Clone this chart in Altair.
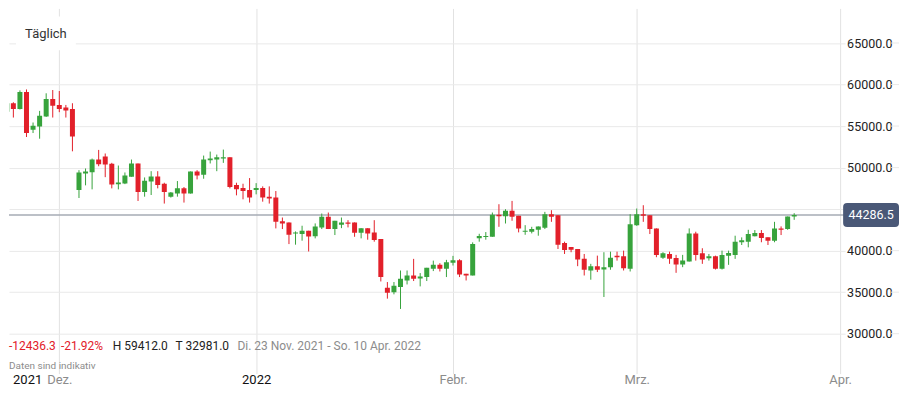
import altair as alt
import pandas as pd

# ---------------- data ----------------
all_days = pd.date_range("2021-11-23", "2022-03-25", freq="D")
closed_days = ["2021-12-25", "2022-01-01"]
trade_dates = [d.strftime("%Y-%m-%d") for d in all_days if d.strftime("%Y-%m-%d") not in closed_days]

opens = [56723, 57751, 57070, 59103, 54557, 54952, 56148, 58266, 57548, 57225,
         57070, 47297, 49294, 49446, 50968, 51330, 50450, 48010, 48100, 48900,
         50490, 47057, 48337, 48935, 48060, 46500, 46870, 47500, 46870, 49534,
         49140, 50880, 50970, 51090, 51250, 47900, 47540, 47300, 47300, 47540,
         46500, 46390, 43550, 43400, 42080, 42000, 42400, 41730, 42800, 44070,
         42600, 43110, 43400, 43400, 42150, 42710, 42200, 41400, 35540, 34980,
         35620, 36410, 37010, 36650, 36820, 37810, 38290, 37810, 38530, 38850,
         37210, 37010, 41480, 41640, 41670, 44310, 44150, 44790, 44190, 42270,
         42270, 42510, 42750, 44390, 44270, 40920, 40440, 40200, 39010, 37600,
         38130, 37730, 38010, 39400, 39330, 37810, 43070, 44390, 44270, 42680,
         39160, 39600, 39130, 38330, 38690, 42080, 39690, 39090, 39330, 37810,
         39400, 39490, 41010, 41080, 41720, 42120, 41600, 41200, 42680, 42600,
         44110]
closes = [57751, 57070, 59103, 54163, 55036, 56232, 58266, 57464, 57070, 56866,
          53756, 49414, 49534, 50968, 50406, 50370, 47978, 48220, 49055, 50490,
          47057, 48420, 48935, 47900, 47060, 46990, 47500, 46870, 49534, 49055,
          50968, 51088, 51250, 51250, 47660, 47380, 47180, 46390, 47540, 46390,
          46270, 43470, 43280, 41910, 42200, 42400, 41700, 42920, 44070, 42600,
          43590, 43400, 43230, 42150, 42710, 42080, 41280, 36820, 34940, 35780,
          36610, 37010, 36610, 36890, 37930, 38290, 37810, 38610, 38850, 37130,
          37010, 40800, 41760, 41760, 44310, 44150, 44790, 44070, 42680, 42400,
          42600, 42920, 44390, 44070, 40720, 40080, 40120, 38920, 37700, 38130,
          37700, 38010, 39160, 39210, 37890, 43190, 44390, 44190, 42600, 39490,
          39690, 39010, 38330, 38810, 42080, 39490, 38920, 39330, 37810, 39490,
          39730, 41080, 41250, 42000, 42120, 41520, 41200, 42680, 42510, 44110,
          44286.5]
highs = [57943, 57870, 59300, 59412, 55431, 56830, 58947, 59342, 59222, 57548,
         57751, 49689, 49893, 51088, 52130, 51700, 50574, 50250, 49414, 50970,
         50490, 48816, 49570, 49570, 48180, 47060, 48380, 47660, 49534, 49690,
         51450, 51930, 51570, 52170, 51250, 48180, 48060, 48740, 48130, 47740,
         47740, 47180, 43990, 43400, 42320, 43000, 42400, 43280, 44470, 44590,
         43590, 43990, 43670, 43400, 42710, 42710, 43670, 41400, 36220, 36220,
         37610, 37610, 39010, 37300, 37930, 38800, 38490, 38890, 39370, 38970,
         37210, 41000, 42030, 42240, 44590, 45590, 44990, 45990, 44190, 43070,
         42870, 42920, 44670, 44870, 44270, 41080, 40440, 40200, 39600, 38410,
         39400, 39810, 39880, 39880, 40000, 44390, 45070, 45470, 44270, 42680,
         39810, 39880, 39490, 39490, 42680, 42280, 40290, 39600, 39400, 40000,
         40000, 41800, 41600, 42510, 42480, 42480, 41600, 43470, 42920, 44110,
         44510]
lows = [55550, 56030, 57000, 53685, 54163, 53481, 56100, 56030, 56675, 56030,
        51962, 46340, 47863, 47382, 50167, 48850, 47500, 47380, 48010, 48900,
        45981, 46500, 46700, 47500, 45670, 46390, 46500, 45790, 46870, 48580,
        48660, 50500, 49570, 50570, 47500, 46660, 46180, 45790, 46780, 45900,
        45670, 42680, 42600, 40790, 40720, 41200, 39900, 41480, 42600, 42600,
        41880, 42710, 42800, 41670, 41480, 41320, 41080, 36290, 34220, 34740,
        32981, 35930, 36340, 35700, 36340, 37540, 37490, 36820, 38210, 36820,
        36410, 37010, 41080, 41320, 41670, 42870, 43270, 43600, 42200, 41910,
        42080, 41800, 42600, 43470, 40200, 39600, 39810, 38130, 37010, 36500,
        37420, 34420, 37700, 38800, 37610, 37490, 42990, 43470, 42000, 39210,
        39010, 38410, 37330, 38010, 38690, 38800, 38410, 38800, 37730, 37730,
        38290, 39010, 40680, 40400, 41720, 41010, 40680, 41010, 41880, 42510,
        43710]

last_price = 44286.5
last_price_label = "44286.5"
period_label = "Täglich"
stats_texts = ["-12436.3", "-21.92%", "H 59412.0", "T 32981.0",
               "Di. 23 Nov. 2021 - So. 10 Apr. 2022"]
disclaimer = "Daten sind indikativ"
y_ticks = [30000, 35000, 40000, 45000, 50000, 55000, 60000, 65000]
y_hidden_label = 45000                  # covered by the last-price tag
x_tick_labels = ["2021", "Dez.", "2022", "Febr.", "Mrz.", "Apr."]

# ---------------- layout / styles ----------------
UP, DOWN = "#37a33c", "#e2202a"
GRID = "#e9e9e9"
FONT = "Roboto"
W, H = 838, 366
x_domain = [1.0944, 127]
y_domain = [25194, 69169]

n = len(trade_dates)
df = pd.DataFrame({"i": list(range(n)), "date": trade_dates, "open": opens,
                   "high": highs, "low": lows, "close": closes})
df["dir"] = ["up" if c >= o else "down" for o, c in zip(opens, closes)]

# first trading day of each month -> tick position
month_first = []
seen = set()
for idx, d in enumerate(trade_dates):
    m = d[:7]
    if m not in seen:
        seen.add(m)
        month_first.append(idx)
month_first = month_first[1:]           # Dez, Jan, Feb, Mrz
year_pos = 3.1                          # leading "2021" label
apr_pos = n - 1 + 7                     # 1 Apr. (continuing the daily index)
x_tick_pos = [year_pos] + month_first + [apr_pos]

expr = "''"
for p, lab in reversed(list(zip(x_tick_pos, x_tick_labels))):
    expr = f"datum.value == {p} ? '{lab}' : ({expr})"
dark_test = f"datum.value == {year_pos} || datum.value == {month_first[1]}"

x_scale = alt.Scale(domain=x_domain, nice=False, zero=False)
y_scale = alt.Scale(domain=y_domain, nice=False, zero=False)

x_axis = alt.Axis(values=x_tick_pos, labelExpr=expr, title=None, grid=True,
                  gridColor={"condition": {"test": f"datum.value == {year_pos}", "value": "transparent"},
                             "value": "#e2e2e2"},
                  labelColor={"condition": {"test": dark_test, "value": "#111111"},
                              "value": "#8c8c8c"},
                  domain=False, ticks=False, labelPadding=0, labelFontSize=13,
                  labelBaseline="top", labelFlush=False, labelOverlap=False, labelFont=FONT)
y_axis = alt.Axis(orient="right", values=y_ticks,
                  labelExpr=f"datum.value == {y_hidden_label} ? '' : format(datum.value, '.1f')",
                  title=None, domain=False, ticks=False, labelPadding=1.5,
                  labelFontSize=12.5, labelColor="#222222", gridColor=GRID, labelFont=FONT)

X = alt.X("i:Q", scale=x_scale, axis=x_axis)
color_enc = alt.Color("dir:N", scale=alt.Scale(domain=["up", "down"], range=[UP, DOWN]), legend=None)

base = alt.Chart(df)
wicks = base.mark_rule(strokeWidth=1, clip=True).encode(
    x=X, y=alt.Y("low:Q", scale=y_scale, axis=y_axis), y2="high:Q", color=color_enc)
bodies = base.mark_bar(size=5, clip=True).encode(
    x=X, y=alt.Y("open:Q", scale=y_scale, axis=y_axis), y2="close:Q", color=color_enc,
    tooltip=["date:N", "open:Q", "high:Q", "low:Q", "close:Q"])

price_df = pd.DataFrame({"price": [last_price], "label": [last_price_label]})
price_line = alt.Chart(price_df).mark_rule(color="#a6abb5", strokeWidth=1.5).encode(
    y=alt.Y("price:Q", scale=y_scale, axis=y_axis))

grid_df = pd.DataFrame({"v": [v for v in y_ticks if v != y_hidden_label]})
grid_tail = alt.Chart(grid_df).mark_rule(color=GRID).encode(
    y=alt.Y("v:Q", scale=y_scale, axis=y_axis), x=alt.value(884), x2=alt.value(892))

tag_path = ("M-0.857,-0.4286 H0.857 Q1,-0.4286 1,-0.286 V0.286 Q1,0.4286 0.857,0.4286 "
            "H-0.857 Q-1,0.4286 -1,0.286 V-0.286 Q-1,-0.4286 -0.857,-0.4286 Z")
tag = alt.Chart(price_df).mark_point(shape=tag_path, filled=True, size=56 * 56,
                                     color="#4a5877", opacity=1, strokeWidth=0).encode(
    y=alt.Y("price:Q", scale=y_scale, axis=y_axis), x=alt.value(864))
tag_text = alt.Chart(price_df).mark_text(color="white", fontSize=12.5, font=FONT,
                                         align="center", baseline="middle").encode(
    y=alt.Y("price:Q", scale=y_scale, axis=y_axis), x=alt.value(864), text="label:N")

period_df = pd.DataFrame({"t": [period_label]})
period_box = alt.Chart(period_df).mark_rect(color="white").encode(
    x=alt.value(7), x2=alt.value(67), y=alt.value(8), y2=alt.value(42))
period_text = alt.Chart(period_df).mark_text(fontSize=13, font=FONT, color="#333333",
                                             align="center", baseline="middle").encode(
    x=alt.value(37), y=alt.value(26), text="t:N")

stats_df = pd.DataFrame({"t": stats_texts,
                         "px": [0, 52, 104, 167, 229],
                         "col": [DOWN, DOWN, "#222222", "#222222", "#8c8c8c"]})
stats = alt.Chart(stats_df).mark_text(fontSize=12, font=FONT, align="left", baseline="middle").encode(
    x=alt.X("px:Q", scale=None), y=alt.value(338), text="t:N",
    color=alt.Color("col:N", scale=None))

disc_df = pd.DataFrame({"t": [disclaimer]})
disc = alt.Chart(disc_df).mark_text(fontSize=10, font=FONT, color="#8c8c8c",
                                    align="left", baseline="middle").encode(
    x=alt.value(0), y=alt.value(358), text="t:N")

chart = alt.layer(price_line, grid_tail, wicks, bodies, tag, tag_text,
                  period_box, period_text, stats, disc).properties(
    width=W, height=H, padding=0, background="white"
).configure(font=FONT, view=alt.ViewConfig(stroke=None))

chart.save("out.html", embed_options={"renderer": "svg", "actions": False})
